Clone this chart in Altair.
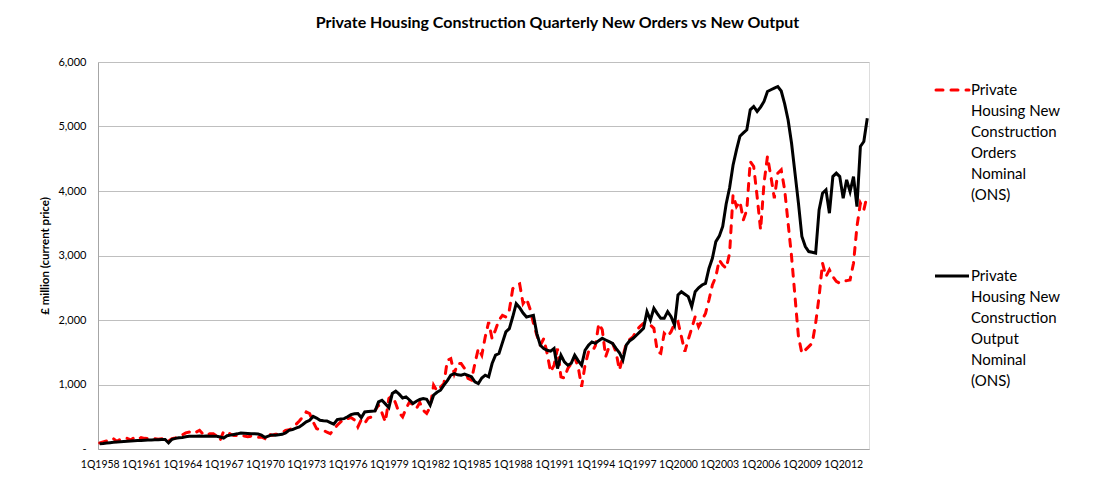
import altair as alt
import pandas as pd

years = list(range(1958, 2014))
quarters = [f"{q}Q{y}" for y in years for q in range(1, 5)]
tick_labels = quarters[::12]
y_ticks = [0, 1000, 2000, 3000, 4000, 5000, 6000]

# Private Housing New Construction Orders Nominal (ONS), £m, quarterly 1Q1958-4Q2013
orders = [
    93, 110, 125, 160,     # 1958
    160, 119, 150, 170,    # 1959
    165, 140, 176, 150,    # 1960
    176, 165, 160, 150,    # 1961
    160, 150, 160, 140,    # 1962
    124, 160, 170, 200,    # 1963
    220, 250, 264, 240,    # 1964
    260, 290, 230, 212,    # 1965
    238, 238, 200, 135,    # 1966
    274, 260, 230, 210,    # 1967
    207, 220, 200, 190,    # 1968
    200, 186, 180, 186,    # 1969
    160, 238, 210, 228,    # 1970
    228, 250, 290, 300,    # 1971
    320, 380, 435, 500,    # 1972
    575, 549, 420, 316,    # 1973
    300, 290, 260, 238,    # 1974
    300, 368, 420, 471,    # 1975
    471, 487, 450, 342,    # 1976
    456, 400, 480, 497,    # 1977
    600, 679, 560, 420,    # 1978
    782, 834, 705, 560,    # 1979
    497, 627, 730, 680,    # 1980
    627, 720, 600, 552,    # 1981
    650, 990, 900, 960,    # 1982
    1015, 1376, 1402, 1170,  # 1983
    1325, 1325, 1250, 1093,  # 1984
    1067, 1325, 1557, 1454,  # 1985
    1737, 1969, 1711, 1850,  # 1986
    2000, 2072, 2046, 2150,  # 1987
    2485, 2536, 2560, 2253,  # 1988
    2330, 2175, 1950, 1763,  # 1989
    1608, 1711, 1480, 1196,  # 1990
    1300, 1557, 1119, 1100,  # 1991
    1250, 1325, 1420, 1273,  # 1992
    964, 1300, 1505, 1500,   # 1993
    1600, 1943, 1850, 1431,  # 1994
    1590, 1638, 1500, 1225,  # 1995
    1430, 1638, 1700, 1741,  # 1996
    1845, 1900, 1948, 1940,  # 1997
    1922, 1871, 1509, 1483,  # 1998
    1793, 1741, 1819, 1948,  # 1999
    1974, 1741, 1509, 1700,  # 2000
    1871, 2052, 1896, 2000,  # 2001
    2103, 2310, 2543, 2672,  # 2002
    2930, 2853, 2801, 3034,  # 2003
    3940, 3759, 3837, 3552,  # 2004
    3707, 4457, 4380, 3914,  # 2005
    3397, 4121, 4535, 4224,  # 2006
    3888, 4276, 4328, 4018,  # 2007
    3500, 2984, 2363, 1743,  # 2008
    1484, 1536, 1588, 1640,  # 2009
    1950, 2363, 2880, 2674,  # 2010
    2777, 2674, 2600, 2570,  # 2011
    2596, 2610, 2622, 2880,  # 2012
    3449, 3811, 3707, 3940,  # 2013
]

# Private Housing New Construction Output Nominal (ONS), £m, quarterly 1Q1958-4Q2013
output = [
    80, 85, 92, 98,        # 1958
    103, 108, 112, 116,    # 1959
    119, 123, 127, 130,    # 1960
    133, 136, 138, 140,    # 1961
    142, 144, 146, 148,    # 1962
    95, 150, 165, 175,     # 1963
    180, 190, 197, 198,    # 1964
    197, 200, 198, 200,    # 1965
    197, 199, 198, 185,    # 1966
    170, 205, 215, 225,    # 1967
    235, 248, 245, 240,    # 1968
    235, 238, 232, 215,    # 1969
    180, 200, 218, 215,    # 1970
    222, 228, 250, 290,    # 1971
    300, 325, 342, 380,    # 1972
    420, 445, 505, 480,    # 1973
    445, 438, 435, 410,    # 1974
    385, 456, 465, 471,    # 1975
    500, 533, 545, 549,    # 1976
    487, 575, 580, 585,    # 1977
    590, 730, 756, 700,    # 1978
    642, 860, 896, 850,    # 1979
    790, 808, 760, 705,    # 1980
    740, 767, 782, 770,    # 1981
    680, 835, 880, 912,    # 1982
    990, 1060, 1144, 1170,   # 1983
    1150, 1144, 1160, 1140,  # 1984
    1119, 1041, 1015, 1100,  # 1985
    1144, 1119, 1325, 1454,  # 1986
    1480, 1650, 1815, 1866,  # 1987
    2050, 2253, 2191, 2108,  # 1988
    2046, 2060, 2072, 1789,  # 1989
    1608, 1557, 1530, 1516,  # 1990
    1557, 1247, 1454, 1351,  # 1991
    1299, 1330, 1454, 1370,  # 1992
    1299, 1531, 1608, 1660,  # 1993
    1638, 1680, 1716, 1690,  # 1994
    1664, 1638, 1560, 1493,  # 1995
    1380, 1612, 1680, 1716,  # 1996
    1767, 1820, 1871, 2129,  # 1997
    2000, 2181, 2100, 2026,  # 1998
    2026, 2129, 2050, 1922,  # 1999
    2388, 2439, 2400, 2362,  # 2000
    2207, 2439, 2500, 2543,  # 2001
    2568, 2800, 2956, 3215,  # 2002
    3300, 3450, 3800, 4050,  # 2003
    4400, 4638, 4850, 4900,  # 2004
    4948, 5258, 5310, 5233,  # 2005
    5300, 5388, 5543, 5570,  # 2006
    5595, 5620, 5550, 5350,  # 2007
    5100, 4741, 4276, 3811,  # 2008
    3294, 3139, 3061, 3050,  # 2009
    3036, 3707, 3966, 4018,  # 2010
    3656, 4224, 4276, 4224,  # 2011
    3888, 4173, 3992, 4224,  # 2012
    3759, 4690, 4767, 5129,  # 2013
]

title_text = "Private Housing Construction Quarterly New Orders vs New Output"
y_title = "£ million (current price)"
legend_orders = ["Private", "Housing New", "Construction", "Orders", "Nominal", "(ONS)"]
legend_output = ["Private", "Housing New", "Construction", "Output", "Nominal", "(ONS)"]

FONT = "Lato"

df_orders = pd.DataFrame({"quarter": quarters, "value": orders})
df_output = pd.DataFrame({"quarter": quarters, "value": output})
one = pd.DataFrame({"k": [0]})

x_enc = alt.X(
    "quarter:N",
    sort=quarters,
    scale=alt.Scale(type="point", padding=0.5),
    axis=alt.Axis(
        values=tick_labels,
        labelAngle=0,
        labelOverlap=False,
        ticks=False,
        tickSize=0,
        grid=False,
        domainColor="#a6a6a6",
        labelPadding=10,
        labelFont=FONT,
        labelFontSize=10.5,
        labelColor="#000000",
        title=None,
    ),
)
y_enc = alt.Y(
    "value:Q",
    scale=alt.Scale(domain=[0, 6000], nice=False),
    axis=alt.Axis(
        values=y_ticks,
        labelExpr="datum.value == 0 ? '-' : format(datum.value, ',')",
        title=y_title,
        titleFont=FONT,
        titleFontSize=11.5,
        titleFontWeight="bold",
        titleColor="#000000",
        titlePadding=7,
        labelFont=FONT,
        labelFontSize=11,
        labelColor="#000000",
        labelPadding=12,
        ticks=False,
        tickSize=0,
        domainColor="#a6a6a6",
        grid=True,
        gridColor="#bfbfbf",
    ),
)

red = alt.Chart(df_orders).mark_line(
    color="#ff0000", strokeWidth=3, strokeDash=[7, 8], strokeCap="round"
).encode(x=x_enc, y=y_enc)

black = alt.Chart(df_output).mark_line(
    color="#000000", strokeWidth=3
).encode(x=x_enc, y=y_enc)

sym_red = alt.Chart(one).mark_rule(
    color="#ff0000", strokeWidth=3, strokeDash=[7, 8], strokeCap="round"
).encode(x=alt.value(838), x2=alt.value(871), y=alt.value(28))
sym_black = alt.Chart(one).mark_rule(
    color="#000000", strokeWidth=3
).encode(x=alt.value(837), x2=alt.value(871), y=alt.value(214))

txt_red = alt.Chart(one).mark_text(
    align="left", baseline="middle", font=FONT, fontSize=15, lineHeight=21, color="#000000"
).encode(x=alt.value(873), y=alt.value(28), text=alt.value(legend_orders))
txt_black = alt.Chart(one).mark_text(
    align="left", baseline="middle", font=FONT, fontSize=15, lineHeight=21, color="#000000"
).encode(x=alt.value(873), y=alt.value(214), text=alt.value(legend_output))

chart = alt.layer(red, black, sym_red, sym_black, txt_red, txt_black).properties(
    width=771,
    height=387,
    title=alt.TitleParams(
        text=title_text, font=FONT, fontSize=16, fontWeight="bold",
        anchor="middle", dx=74, offset=25, color="#000000",
    ),
    autosize=alt.AutoSizeParams(type="none"),
    padding={"left": 90, "top": 54, "right": 220, "bottom": 40},
).configure_view(strokeWidth=0).configure(background="#ffffff")

chart.save("out.html", embed_options={"renderer": "svg", "actions": False})
